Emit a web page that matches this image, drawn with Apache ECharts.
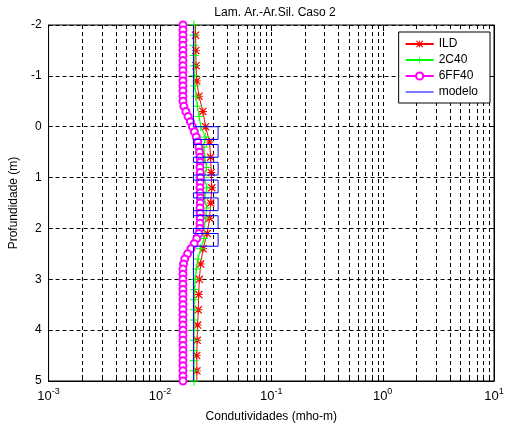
<!DOCTYPE html>
<html>
<head>
<meta charset="utf-8">
<script src="https://cdn.jsdelivr.net/npm/echarts@6/dist/echarts.min.js"></script>
<style>
  html, body { margin: 0; padding: 0; background: #fff; }
  #chart { width: 509px; height: 428px; }
</style>
</head>
<body>
<div id="chart"></div>
<script>
// Depth (m) and conductivity (mho/m) curves
const ildDepth = [-2.1, -1.8, -1.5, -1.2, -0.9, -0.6, -0.3, 0.0, 0.3, 0.6, 0.9, 1.2, 1.5,
  1.8, 2.1, 2.4, 2.7, 3.0, 3.3, 3.6, 3.9, 4.2, 4.5, 4.8, 5.1];
const ildValues = [0.0209, 0.0209, 0.0210, 0.0211, 0.0214, 0.0224, 0.0243, 0.0257, 0.0279,
  0.0285, 0.0289, 0.0292, 0.0286, 0.0279, 0.0266, 0.0244, 0.0232, 0.0226, 0.0223, 0.0221,
  0.0218, 0.0216, 0.0214, 0.0215, 0.0214];

const c40Depth = [-2.0, -1.8, -1.6, -1.4, -1.2, -1.0, -0.8, -0.6, -0.4, -0.2, 0.0, 0.2, 0.4,
  0.6, 0.8, 1.0, 1.2, 1.4, 1.6, 1.8, 2.0, 2.2, 2.4, 2.6, 2.8, 3.0, 3.2, 3.4, 3.6, 3.8, 4.0,
  4.2, 4.4, 4.6, 4.8, 5.0];
const c40Values = [0.0202, 0.0202, 0.0202, 0.0203, 0.0203, 0.0204, 0.0206, 0.0211, 0.0217,
  0.0225, 0.0233, 0.0255, 0.0248, 0.0252, 0.0262, 0.0250, 0.0264, 0.0252, 0.0262, 0.0258,
  0.0250, 0.0248, 0.0232, 0.0220, 0.0212, 0.0207, 0.0205, 0.0204, 0.0203, 0.0203, 0.0202,
  0.0202, 0.0202, 0.0202, 0.0202, 0.0202];

const ff40Depth = [-2.0, -1.9, -1.8, -1.7, -1.6, -1.5, -1.4, -1.3, -1.2, -1.1, -1.0, -0.9,
  -0.8, -0.7, -0.6, -0.5, -0.4, -0.3, -0.2, -0.1, 0.0, 0.1, 0.2, 0.3, 0.4, 0.5, 0.6, 0.7,
  0.8, 0.9, 1.0, 1.1, 1.2, 1.3, 1.4, 1.5, 1.6, 1.7, 1.8, 1.9, 2.0, 2.1, 2.2, 2.3, 2.4, 2.5,
  2.6, 2.7, 2.8, 2.9, 3.0, 3.1, 3.2, 3.3, 3.4, 3.5, 3.6, 3.7, 3.8, 3.9, 4.0, 4.1, 4.2, 4.3,
  4.4, 4.5, 4.6, 4.7, 4.8, 4.9, 5.0];
const ff40Values = [0.0161, 0.0161, 0.0161, 0.0161, 0.0161, 0.0161, 0.0161, 0.0161, 0.0161,
  0.0161, 0.0161, 0.0161, 0.0161, 0.0161, 0.0161, 0.0161, 0.0164, 0.0171, 0.0179, 0.0188,
  0.0196, 0.0204, 0.0212, 0.0219, 0.0224, 0.0227, 0.0229, 0.0230, 0.0229, 0.0230, 0.0231,
  0.0230, 0.0229, 0.0230, 0.0231, 0.0230, 0.0229, 0.0230, 0.0230, 0.0229, 0.0228, 0.0224,
  0.0214, 0.0203, 0.0190, 0.0177, 0.0167, 0.0163, 0.0161, 0.0161, 0.0161, 0.0161, 0.0161,
  0.0161, 0.0161, 0.0161, 0.0161, 0.0161, 0.0161, 0.0161, 0.0161, 0.0161, 0.0161, 0.0161,
  0.0161, 0.0161, 0.0161, 0.0161, 0.0161, 0.0161, 0.0161];

// Layered model: background conductivity with thin conductive beds
const modelBackground = 0.02;
const modelLayerValue = 0.0333;
const modelLayerTop = [0.0, 0.35, 0.70, 1.05, 1.40, 1.75, 2.10];
const modelLayerBottom = [0.25, 0.60, 0.95, 1.30, 1.65, 2.00, 2.35];
const depthRange = [-2, 5];

// Log-grid positions (2..9 within each decade plus inner decades)
const gridX = [];
for (let e = -3; e <= 0; e++) {
  for (let k = 1; k <= 9; k++) {
    const v = k * Math.pow(10, e);
    if (v > 0.001) gridX.push(Number(v.toPrecision(2)));
  }
}

function pairs(xs, ys) { return xs.map((x, i) => [x, ys[i]]); }

const modelPts = [[modelBackground, depthRange[0]]];
modelLayerTop.forEach((t, i) => {
  modelPts.push([modelBackground, t], [modelLayerValue, t],
    [modelLayerValue, modelLayerBottom[i]], [modelBackground, modelLayerBottom[i]]);
});
modelPts.push([modelBackground, depthRange[1]]);

const FONT = '"Liberation Sans", Arial, sans-serif';
const plusPath = 'path://M4,0 L5,0 L5,4 L9,4 L9,5 L5,5 L5,9 L4,9 L4,5 L0,5 L0,4 L4,4 Z';
const starPath = 'path://M4,0 L5,0 L5,4 L9,4 L9,5 L5,5 L5,9 L4,9 L4,5 L0,5 L0,4 L4,4 Z ' +
  'M0,1 L1,0 L9,8 L8,9 Z M8,0 L9,1 L1,9 L0,8 Z';
const linePath = 'path://M0,0 L27,0 L27,1 L0,1 Z';

const chart = echarts.init(document.getElementById('chart'), null, { renderer: 'canvas' });

chart.setOption({
  animation: false,
  backgroundColor: '#fff',
  title: {
    text: 'Lam. Ar.-Ar.Sil. Caso 2',
    left: 270, top: 2, textAlign: 'center',
    textStyle: { fontFamily: FONT, fontSize: 12, fontWeight: 'normal', color: '#000' }
  },
  legend: {
    data: ['ILD', '2C40', '6FF40', { name: 'modelo', icon: linePath }],
    orient: 'vertical',
    right: 19, top: 32,
    padding: [6, 12, 5, 6],
    itemGap: 4,
    itemWidth: 28, itemHeight: 9,
    backgroundColor: '#fff',
    borderColor: '#000', borderWidth: 1, borderRadius: 0,
    textStyle: { fontFamily: FONT, fontSize: 12, color: '#000' }
  },
  grid: {
    left: 47, right: 15, top: 25, bottom: 46,
    show: true, borderColor: '#000', borderWidth: 1, backgroundColor: 'transparent'
  },
  xAxis: {
    type: 'log', logBase: 10, min: 0.001, max: 10,
    name: 'Condutividades (mho-m)', nameLocation: 'middle', nameGap: 30,
    nameTextStyle: { fontFamily: FONT, fontSize: 12, color: '#000' },
    axisLine: { show: true, onZero: false, lineStyle: { color: '#000' } },
    axisTick: { show: false },
    splitLine: { show: false },
    axisLabel: {
      margin: 6, color: '#000',
      formatter: v => '{b|10}{s|' + Math.round(Math.log10(v)) + '}',
      rich: {
        b: { fontFamily: FONT, fontSize: 13, color: '#000', verticalAlign: 'bottom', lineHeight: 16 },
        s: { fontFamily: FONT, fontSize: 9, color: '#000', verticalAlign: 'top', lineHeight: 16, padding: [0, 0, 8, 0] }
      }
    }
  },
  yAxis: [{
    type: 'value', inverse: true, min: -2, max: 5, interval: 1,
    name: 'Profundidade (m)', nameLocation: 'middle', nameGap: 25, nameRotate: 90,
    nameTextStyle: { fontFamily: FONT, fontSize: 12, color: '#000' },
    axisLine: { show: true, onZero: false, lineStyle: { color: '#000' } },
    axisTick: { show: true, inside: true, length: 4, lineStyle: { color: '#000' } },
    axisLabel: { fontFamily: FONT, fontSize: 12, color: '#000', margin: 7 },
    splitLine: { show: true, lineStyle: { color: '#000', type: [4, 3], width: 1 } }
  }, {
    type: 'value', inverse: true, min: -2, max: 5, interval: 1, position: 'right',
    axisLine: { show: true, onZero: false, lineStyle: { color: '#000' } },
    axisTick: { show: true, inside: true, length: 4, lineStyle: { color: '#000' } },
    axisLabel: { show: false },
    splitLine: { show: false }
  }],
  series: [
    {
      name: 'grade', type: 'custom', silent: true, z: 1,
      data: gridX.map(v => [v, 0]),
      encode: { x: 0, y: 1 },
      renderItem: function (params, api) {
        const px = Math.round(api.coord([api.value(0), 0])[0]) + 0.5;
        const top = params.coordSys.y, bot = top + params.coordSys.height;
        const lg = Math.log10(api.value(0));
        const tl = Math.abs(lg - Math.round(lg)) < 1e-6 ? 6 : 4;
        return {
          type: 'group',
          children: [
            { type: 'line', shape: { x1: px, y1: top, x2: px, y2: bot },
              style: { stroke: '#000', lineWidth: 1, lineDash: [4, 3] } },
            { type: 'line', shape: { x1: px, y1: top, x2: px, y2: top + tl },
              style: { stroke: '#000', lineWidth: 1 } },
            { type: 'line', shape: { x1: px, y1: bot, x2: px, y2: bot - tl },
              style: { stroke: '#000', lineWidth: 1 } }
          ]
        };
      }
    },
    {
      name: 'ILD', type: 'line', data: pairs(ildValues, ildDepth), z: 3,
      symbol: starPath, symbolSize: 8, showAllSymbol: true, clip: true,
      lineStyle: { color: '#ff0000', width: 1 },
      itemStyle: { color: '#ff0000' }
    },
    {
      name: '2C40', type: 'line', data: pairs(c40Values, c40Depth), z: 4,
      symbol: plusPath, symbolSize: 9, showAllSymbol: true, clip: true,
      lineStyle: { color: '#00ff00', width: 1 },
      itemStyle: { color: '#00ff00' }
    },
    {
      name: '6FF40', type: 'line', data: pairs(ff40Values, ff40Depth), z: 5,
      symbol: 'emptyCircle', symbolSize: 7, showAllSymbol: true, clip: true,
      lineStyle: { color: '#ff00ff', width: 1 },
      itemStyle: { color: '#ff00ff', borderColor: '#ff00ff', borderWidth: 1 }
    },
    {
      name: 'modelo', type: 'line', data: modelPts, z: 6,
      symbol: 'none', clip: true,
      lineStyle: { color: '#0000ff', width: 1 },
      itemStyle: { color: '#0000ff' }
    }
  ]
});
</script>
</body>
</html>
